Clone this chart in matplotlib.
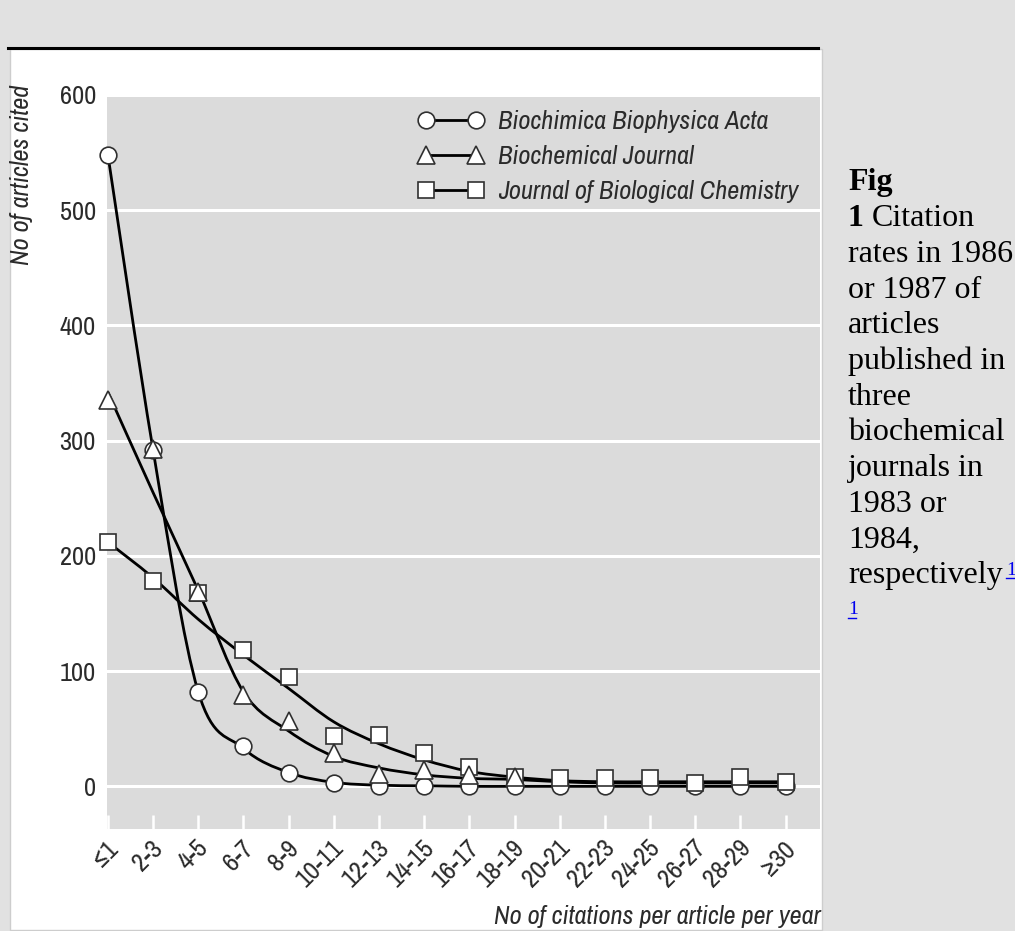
import matplotlib
matplotlib.use("Agg")
import matplotlib.pyplot as plt
import numpy as np
from matplotlib.path import Path
from matplotlib.patches import PathPatch, Rectangle
from matplotlib.lines import Line2D
from matplotlib.transforms import ScaledTranslation

# categories on the x axis
categories = ['≤1', '2-3', '4-5', '6-7', '8-9', '10-11', '12-13', '14-15',
              '16-17', '18-19', '20-21', '22-23', '24-25', '26-27', '28-29', '≥30']

# plotted points (number of articles cited); no triangles are visible past 18-19
bba = [548, 292, 82, 35, 12, 3, 0, 0, 0, 0, 0, 0, 0, 0, 0, 0]
bj = [335, 293, 169, 79, 57, 29, 11, 14, 10, 8,
      np.nan, np.nan, np.nan, np.nan, np.nan, np.nan]
jbc = [212, 178, 168, 118, 95, 44, 45, 29, 17, 8, 7, 7, 7, 3, 8, 4]

# smooth curves as drawn in the figure
bba_curve = [548, 292, 82, 33, 12, 3.5, 1, 0.5, 0, 0, 0, 0, 0, 0, 0, 0]
bj_curve = [342, 255, 170, 82, 48, 26, 16, 10, 7, 6, 4, 3, 3, 3, 3, 3]
jbc_curve = [212, 181, 145, 114, 85, 56, 37, 23, 13, 8, 5, 4, 4, 4, 4, 4]

labels = ['Biochimica Biophysica Acta', 'Biochemical Journal',
          'Journal of Biological Chemistry']

caption = ['rates in 1986', 'or 1987 of', 'articles', 'published in', 'three',
           'biochemical', 'journals in', '1983 or', '1984,', 'respectively']

W, H = 1015, 931
sans = ['Liberation Sans Narrow', 'Arial Narrow', 'Archivo Narrow',
        'Roboto Condensed', 'PT Sans Narrow', 'Liberation Sans', 'DejaVu Sans']
serif = ['Liberation Serif', 'DejaVu Serif']
txt = '#2b2b2b'
fs = 19


def fx(px):
    return px / W


def fy(py):
    return 1 - py / H


def smooth_path(xs, ys):
    pts = np.column_stack([xs, ys]).astype(float)
    n = len(pts)
    verts = [pts[0]]
    codes = [Path.MOVETO]
    for i in range(n - 1):
        p0 = pts[max(i - 1, 0)]
        p1 = pts[i]
        p2 = pts[i + 1]
        p3 = pts[min(i + 2, n - 1)]
        verts += [p1 + (p2 - p0) / 6, p2 - (p3 - p1) / 6, p2]
        codes += [Path.CURVE4] * 3
    return Path(verts, codes)


fig = plt.figure(figsize=(W / 100, H / 100), dpi=100, facecolor='#e1e1e1')

fig.add_artist(Rectangle((fx(10), fy(930)), fx(822) - fx(10), fy(49) - fy(930),
                         transform=fig.transFigure, fc='white', ec='#cdcdcd',
                         lw=1, zorder=0))
fig.add_artist(Line2D([fx(8), fx(818)], [fy(48), fy(48)], color='black', lw=2.2))

ax = fig.add_axes([fx(107), fy(829), (820 - 107) / W, (829 - 95) / H])
ax.set_facecolor('#dbdbdb')
for s in ax.spines.values():
    s.set_visible(False)

x = np.arange(len(categories))
ax.set_xlim(-0.02, 15.76)
ax.set_ylim(-37, 600)

ax.set_yticks([0, 100, 200, 300, 400, 500, 600])
ax.yaxis.grid(True, color='white', lw=2.2)
ax.set_axisbelow(True)
ax.tick_params(axis='y', length=0, pad=8, labelsize=fs, labelcolor=txt)
for lab in ax.get_yticklabels():
    lab.set_family(sans)

ax.set_xticks(x)
ax.set_xticklabels(categories)
ax.tick_params(axis='x', direction='in', length=10, width=1.8, color='white',
               pad=8, labelsize=fs, labelcolor=txt)
offset = ScaledTranslation(6 / 100, -4 / 100, fig.dpi_scale_trans)
for lab in ax.get_xticklabels():
    lab.set_family(sans)
    lab.set_rotation(45)
    lab.set_ha('right')
    lab.set_va('center')
    lab.set_rotation_mode('anchor')
    lab.set_transform(lab.get_transform() + offset)

for curve in [bba_curve, bj_curve, jbc_curve]:
    ax.add_patch(PathPatch(smooth_path(x, curve), fill=False, ec='black',
                           lw=2.0, zorder=3))

mk = dict(ls='none', mfc='white', mec='#303030', mew=1.2, ms=12, clip_on=False)
ax.plot(x, bba, marker='o', zorder=4, **mk)
ax.plot(x, jbc, marker='s', zorder=5, **dict(mk, ms=11.5))
ax.plot(x, bj, marker='^', zorder=6, **dict(mk, ms=13))

handles = [Line2D([], [], color='black', lw=2, marker=m, mfc='white',
                  mec='#303030', mew=1.2, ms=s)
           for m, s in [('o', 12), ('^', 13), ('s', 11.5)]]
leg = ax.legend(handles, labels, loc='upper left', numpoints=2, frameon=False,
                bbox_to_anchor=((418 - 107) / 713, (829 - 110) / 734),
                borderpad=0, borderaxespad=0, handlelength=2.5,
                handletextpad=0.55, labelspacing=0.45,
                prop=dict(family=sans, size=fs, style='italic'))
for t in leg.get_texts():
    t.set_color(txt)

fig.text(fx(22), fy(85), 'No of articles cited', rotation=90, ha='center',
         va='top', family=sans, size=fs, style='italic', color=txt)
fig.text(fx(821), fy(924), 'No of citations per article per year', ha='right',
         va='baseline', family=sans, size=fs, style='italic', color=txt)

# caption on the right
fig.text(fx(848), fy(190), 'Fig', family=serif, weight='bold', size=23,
         va='baseline')
fig.text(fx(848), fy(226), '1', family=serif, weight='bold', size=23,
         va='baseline')
fig.text(fx(872), fy(226), 'Citation', family=serif, size=23, va='baseline')
for i, line in enumerate(caption):
    fig.text(fx(848), fy(262 + 35.7 * i), line, family=serif, size=23,
             va='baseline')
fig.text(fx(1006), fy(575), '1', family=serif, size=14, color='#0000ee',
         va='baseline')
fig.add_artist(Line2D([fx(1006), fx(1014)], [fy(578), fy(578)], color='#0000ee',
                      lw=1))
fig.text(fx(848), fy(614), '1', family=serif, size=14, color='#0000ee',
         va='baseline')
fig.add_artist(Line2D([fx(848), fx(856)], [fy(618), fy(618)], color='#0000ee',
                      lw=1))

fig.savefig('out.png', dpi=100, facecolor=fig.get_facecolor())
